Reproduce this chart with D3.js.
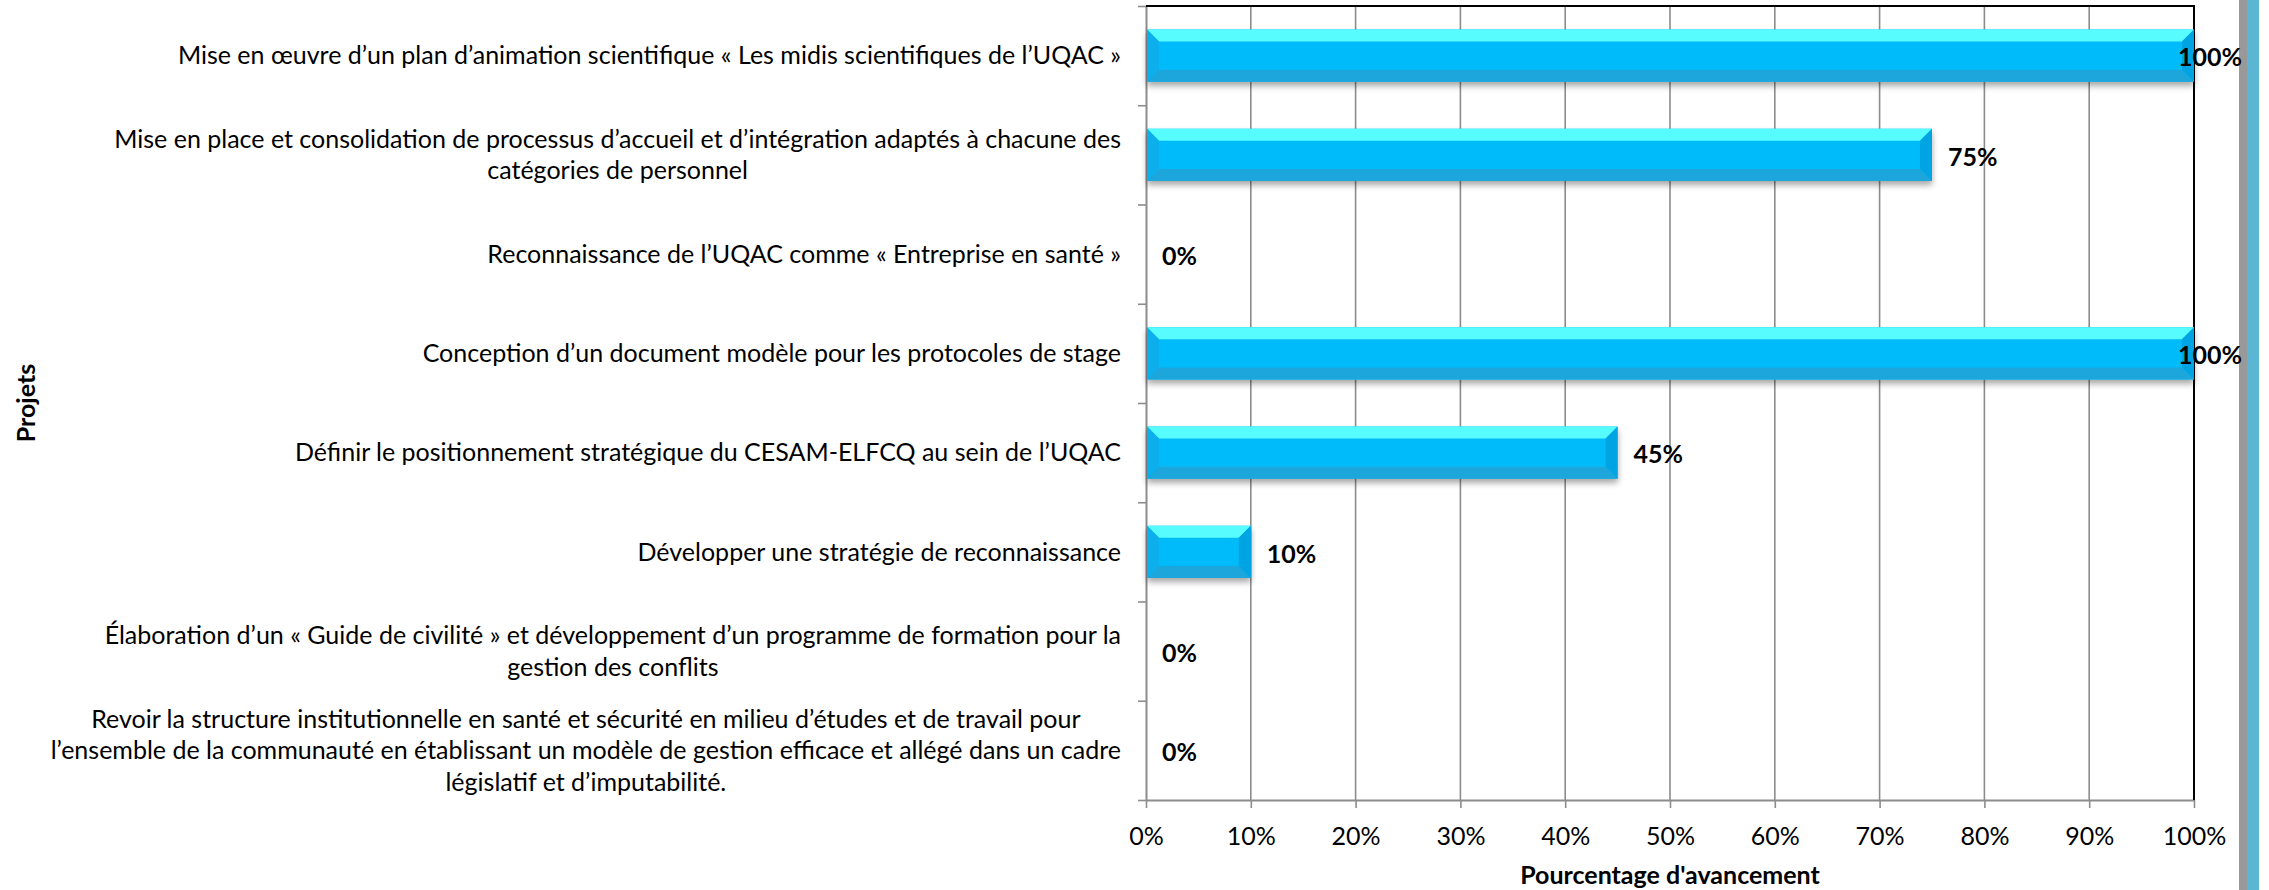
<!DOCTYPE html>
<html><head><meta charset="utf-8">
<script src="https://cdn.jsdelivr.net/npm/d3@7"></script>
<style>body{margin:0;background:#fff}svg{display:block}</style>
</head><body>
<script>
const categories = [
  "Mise en œuvre d’un plan d’animation scientifique « Les midis scientifiques de l’UQAC »",
  "Mise en place et consolidation de processus d’accueil et d’intégration adaptés à chacune des\ncatégories de personnel",
  "Reconnaissance de l’UQAC comme « Entreprise en santé »",
  "Conception d’un document modèle pour les protocoles de stage",
  "Définir le positionnement stratégique du CESAM-ELFCQ au sein de l’UQAC",
  "Développer une stratégie de reconnaissance",
  "Élaboration d’un « Guide de civilité » et développement d’un programme de formation pour la\ngestion des conflits",
  "Revoir la structure institutionnelle en santé et sécurité en milieu d’études et de travail pour\nl’ensemble de la communauté en établissant un modèle de gestion efficace et allégé dans un cadre\nlégislatif et d’imputabilité."
];
const values = [100, 75, 0, 100, 45, 10, 0, 0];
const xTickValues = [0, 10, 20, 30, 40, 50, 60, 70, 80, 90, 100];
const xTitle = "Pourcentage d'avancement";
const yTitle = "Projets";

const W = 2269, H = 890;
const FONT = "Lato, 'Open Sans', sans-serif";
const FS = 25;
const plot = {left: 1146, right: 2194, top: 6, bottom: 800};
const labelRight = 1121;
const chartRight = 2242;

const svg = d3.select("body").append("svg").attr("width", W).attr("height", H)
  .style("font-family", FONT);
const defs = svg.append("defs");
const f = defs.append("filter").attr("id", "shadow")
  .attr("x", "-5%").attr("y", "-30%").attr("width", "110%").attr("height", "180%");
f.append("feDropShadow").attr("dx", 0).attr("dy", 4).attr("stdDeviation", 3)
  .attr("flood-color", "#000").attr("flood-opacity", 0.35);

// right decoration (drawn first, beneath text)
svg.append("rect").attr("x", 2239).attr("y", 0).attr("width", 8).attr("height", H).attr("fill", "#999999");
svg.append("rect").attr("x", 2247).attr("y", 0).attr("width", 12).attr("height", H).attr("fill", "#5bb6d4");

const x = d3.scaleLinear().domain([0, 100]).range([plot.left, plot.right]);
const y = d3.scaleBand().domain(d3.range(categories.length))
  .range([plot.top, plot.bottom]).paddingInner(0.475).paddingOuter(0.2375);
const yb = d3.scaleLinear().domain([0, categories.length]).range([plot.top, plot.bottom]);

// gridlines
svg.append("g").selectAll("line")
  .data(xTickValues.filter(v => v > 0 && v < 100)).join("line")
  .attr("x1", d => x(d)).attr("x2", d => x(d))
  .attr("y1", plot.top).attr("y2", plot.bottom)
  .attr("stroke", "#8c8c8c").attr("stroke-width", 1.6);

// x axis
const gx = svg.append("g").attr("transform", `translate(0,${plot.bottom})`)
  .call(d3.axisBottom(x).tickValues(xTickValues).tickFormat(d => d + "%")
    .tickSize(8).tickSizeOuter(0));
gx.select(".domain").attr("stroke", "#8c8c8c").attr("stroke-width", 2);
gx.selectAll(".tick line").attr("stroke", "#8c8c8c").attr("stroke-width", 1.6);
gx.selectAll(".tick text").attr("y", 36).attr("dy", "0.35em")
  .attr("font-size", FS).attr("font-family", FONT).attr("fill", "#000");

// y axis (boundaries)
const gy = svg.append("g").attr("transform", `translate(${plot.left},0)`)
  .call(d3.axisLeft(yb).tickValues(d3.range(categories.length + 1)).tickFormat("")
    .tickSize(8).tickSizeOuter(0));
gy.select(".domain").attr("stroke", "#8c8c8c").attr("stroke-width", 2);
gy.selectAll(".tick line").attr("stroke", "#8c8c8c").attr("stroke-width", 1.6);

// top/right borders
svg.append("line").attr("x1", plot.left).attr("x2", plot.right + 1)
  .attr("y1", plot.top).attr("y2", plot.top).attr("stroke", "#000").attr("stroke-width", 2);
svg.append("line").attr("x1", plot.right).attr("x2", plot.right)
  .attr("y1", plot.top).attr("y2", plot.bottom).attr("stroke", "#000").attr("stroke-width", 2);

// bars with bevel
const data = values.map((v, i) => ({v, i}));
const bw = y.bandwidth();
const barG = svg.append("g").selectAll("g").data(data.filter(d => d.v > 0)).join("g")
  .attr("filter", "url(#shadow)");
barG.each(function(d) {
  const g = d3.select(this);
  const x0 = x(0) + 1, x1 = x(d.v), y0 = y(d.i), y1 = y0 + bw;
  const b = Math.min(12, (x1 - x0) / 2);
  const poly = (pts, fill) => g.append("polygon")
    .attr("points", pts.map(p => p.join(",")).join(" ")).attr("fill", fill);
  poly([[x0, y0], [x1, y0], [x1, y1], [x0, y1]], "#06bbf9");
  poly([[x0, y0], [x1, y0], [x1 - b, y0 + b], [x0 + b, y0 + b]], "#57fcff");
  poly([[x0, y1], [x1, y1], [x1 - b, y1 - b], [x0 + b, y1 - b]], "#1ba6dc");
  poly([[x0, y0], [x0 + b, y0 + b], [x0 + b, y1 - b], [x0, y1]], "#0aaeec");
  poly([[x1, y0], [x1 - b, y0 + b], [x1 - b, y1 - b], [x1, y1]], "#05a4e3");
});

// value labels
svg.append("g").selectAll("text").data(data).join("text")
  .attr("x", d => x(d.v) + 16)
  .attr("y", d => y(d.i) + bw / 2 + 2).attr("dy", "0.35em")
  .attr("font-size", FS).attr("font-weight", "bold").attr("fill", "#000")
  .text(d => d.v + "%")
  .each(function() {
    const t = d3.select(this);
    const w = this.getComputedTextLength();
    const xs = +t.attr("x");
    if (xs + w > chartRight) t.attr("x", chartRight - w);
  });

// category labels
const lh = 31.5;
const catG = svg.append("g");
categories.forEach((c, i) => {
  const lines = c.split("\n");
  const t = catG.append("text").attr("font-size", FS).attr("fill", "#000")
    .attr("text-anchor", "middle");
  const cy = y(i) + bw / 2;
  const tsp = lines.map((ln, k) => t.append("tspan")
    .attr("y", cy + (k - (lines.length - 1) / 2) * lh).attr("dy", "0.35em").text(ln));
  let maxW = 0;
  tsp.forEach(s => { maxW = Math.max(maxW, s.node().getComputedTextLength()); });
  tsp.forEach(s => s.attr("x", labelRight - maxW / 2));
});

// axis titles
svg.append("text").attr("x", (plot.left + plot.right) / 2).attr("y", 875).attr("dy", "0.35em")
  .attr("text-anchor", "middle").attr("font-size", FS).attr("font-weight", "bold")
  .text(xTitle);
svg.append("text").attr("transform", `translate(26,${(plot.top + plot.bottom) / 2}) rotate(-90)`)
  .attr("dy", "0.35em").attr("text-anchor", "middle").attr("font-size", FS).attr("font-weight", "bold")
  .text(yTitle);
</script>
</body></html>
